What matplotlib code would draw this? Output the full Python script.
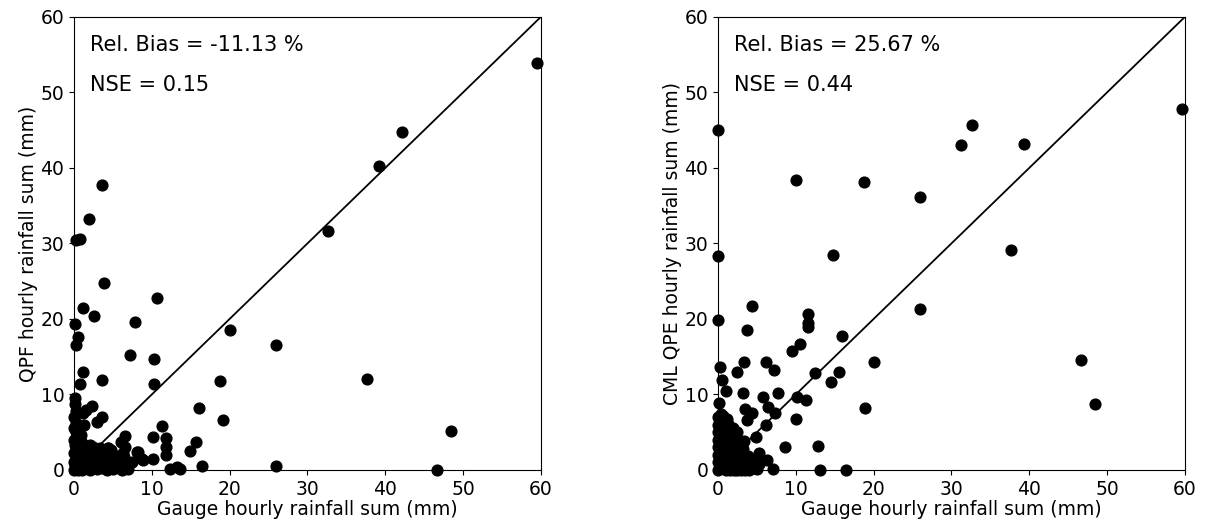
import matplotlib
matplotlib.use('Agg')
import matplotlib.pyplot as plt
import numpy as np

# QPF vs gauge (left panel)
gauge_qpf = [59.5, 42.1, 39.2, 32.6, 3.6, 1.9, 0.3, 0.8, 3.9, 10.6, 1.2, 2.6, 7.8, 0.1,
             0.5, 0.2, 20.1, 26.0, 7.2, 10.3, 1.2, 0.8, 3.6, 10.3, 18.8, 37.7, 0.1, 0.1,
             2.3, 1.6, 1.2, 3.6, 3.0, 16.0, 19.1, 1.3, 0.9, 11.3, 48.4, 6.6, 6.1, 6.6,
             6.3, 10.1, 11.8, 11.8, 11.8, 15.7, 14.9, 8.1, 8.7, 10.1, 7.4, 4.4, 2.1, 2.5,
             26.0, 16.5, 13.2, 12.3, 13.6, 46.6,
             0.0, 0.2, 0.5, 0.8, 1.0, 1.2, 1.5, 1.8, 2.0, 2.3, 2.6, 3.0, 3.2, 3.6, 4.0,
             4.3, 4.7, 5.0, 5.4, 5.8, 6.2, 6.6, 7.0, 0.0, 0.3, 0.0, 0.5, 1.0, 1.3, 0.1,
             0.0, 0.4, 0.0, 0.2, 0.6, 1.6, 2.8, 3.3, 4.4, 5.1, 5.6, 6.0, 0.1, 0.0, 0.3,
             2.0, 3.3, 4.4, 8.2, 8.8,
             0.5, 1.5, 2.5, 3.5, 4.5, 5.5, 6.0, 6.8, 0.8, 1.8, 2.2, 3.8, 4.8, 0.2, 0.9,
             0.2, 1.5, 2.6, 3.0, 0.4, 1.1, 2.0, 2.9, 3.9, 4.9, 5.2, 6.4]
qpf = [53.9, 44.8, 40.2, 31.6, 37.7, 33.2, 30.5, 30.6, 24.8, 22.8, 21.5, 20.4, 19.6, 19.3,
       17.6, 16.6, 18.5, 16.5, 15.2, 14.7, 13.0, 11.4, 11.9, 11.4, 11.8, 12.1, 9.5, 8.8,
       8.5, 7.9, 7.5, 7.0, 6.4, 8.2, 6.6, 5.9, 4.6, 5.8, 5.1, 4.5, 3.7, 3.1,
       2.3, 4.4, 4.2, 3.1, 2.0, 3.7, 2.5, 2.4, 1.4, 1.4, 1.0, 2.9, 3.3, 3.1,
       0.5, 0.5, 0.4, 0.1, 0.1, 0.0,
       0.0, 0.1, 0.0, 0.3, 0.0, 0.6, 0.2, 1.0, 0.0, 0.5, 1.4, 0.1, 0.8, 0.3, 1.2,
       0.0, 0.6, 0.1, 0.9, 0.3, 0.0, 0.5, 0.1, 1.0, 1.6, 2.2, 2.6, 1.9, 2.8, 3.3,
       4.0, 4.8, 5.5, 6.2, 1.2, 1.5, 2.0, 1.6, 2.0, 1.5, 1.8, 1.2, 0.6, 7.0, 7.8,
       3.1, 2.9, 2.9, 2.4, 1.3,
       0.8, 0.9, 0.2, 1.0, 1.3, 0.5, 0.8, 0.9, 1.8, 2.2, 1.2, 2.3, 2.6, 2.9, 3.8,
       5.0, 3.2, 2.6, 1.6, 0.4, 0.2, 0.5, 0.4, 0.5, 0.3, 1.9, 1.7]

# CML QPE vs gauge (right panel)
gauge_cml = [59.6, 0.0, 32.7, 31.2, 39.3, 10.0, 18.8, 26.0, 37.6, 0.0, 14.8, 26.0, 4.4,
             0.0, 11.6, 11.6, 11.6, 3.7, 15.9, 10.5, 9.5, 20.1, 46.7, 3.4, 6.2, 7.2,
             2.5, 0.2, 12.4, 15.6, 14.5, 0.5, 1.0, 3.2, 7.7, 0.1, 5.8, 10.2, 11.3, 6.4,
             3.5, 4.3, 3.7, 7.3, 10.0, 18.9, 48.4, 6.1, 4.9, 8.6, 12.8, 5.3, 6.3, 13.1,
             16.4, 7.0,
             0.0, 0.0, 0.0, 0.0, 0.0, 0.0, 0.0, 0.0, 0.4, 0.5, 0.5, 0.5, 0.6, 0.5, 0.6,
             0.7, 1.0, 1.0, 1.1, 1.0, 1.1, 1.2, 1.3, 1.5, 1.6, 1.6, 1.7, 1.8, 1.9, 2.0,
             2.1, 2.2, 2.3, 2.4, 2.5, 2.6, 2.8, 3.0, 3.0, 3.2, 3.4, 3.5, 3.8, 4.0, 4.1,
             4.5, 4.6, 5.0, 5.2,
             0.3, 0.2, 0.3, 0.2, 0.3, 0.2, 0.3, 0.8, 0.8, 0.9, 0.8, 0.9, 1.0, 1.3, 1.3,
             1.4, 1.4, 1.5, 1.6, 2.0, 2.0, 2.1, 2.2, 2.0, 2.6, 2.7, 3.3, 3.6, 4.2, 2.5,
             3.5, 1.5, 0.2, 1.1, 0.6]
cml = [47.8, 45.0, 45.7, 43.0, 43.2, 38.4, 38.2, 36.2, 29.2, 28.3, 28.5, 21.3, 21.7,
       19.9, 20.7, 19.5, 18.9, 18.5, 17.8, 16.7, 15.8, 14.3, 14.5, 14.3, 14.3, 13.2,
       13.0, 13.7, 12.9, 13.0, 11.6, 11.9, 10.5, 10.2, 10.2, 8.9, 9.6, 9.6, 9.2, 8.4,
       8.1, 7.5, 6.6, 7.5, 6.8, 8.2, 8.8, 6.0, 4.3, 3.1, 3.2, 2.2, 1.3, 0.0,
       0.0, 0.1,
       0.0, 1.0, 2.0, 3.0, 4.0, 5.0, 6.0, 7.0, 7.4, 0.5, 1.5, 2.5, 3.5, 4.5, 5.5,
       6.5, 0.0, 1.0, 2.0, 3.0, 4.0, 5.0, 6.1, 0.5, 1.5, 2.6, 3.5, 4.6, 5.5, 0.0,
       1.0, 2.0, 3.0, 4.0, 5.0, 0.4, 3.5, 0.0, 1.2, 2.8, 3.8, 0.6, 1.8, 0.0, 1.0,
       0.3, 1.5, 0.1, 0.8,
       0.3, 1.3, 2.3, 3.3, 4.3, 5.3, 6.3, 0.8, 1.8, 2.8, 3.8, 4.8, 5.8, 0.3, 1.3,
       2.4, 3.4, 4.3, 5.0, 0.6, 1.6, 2.6, 3.6, 4.4, 1.4, 2.2, 0.4, 1.2, 0.5, 0.0,
       0.0, 0.0, 7.0, 6.8, 7.2]

panels = [
    (gauge_qpf, qpf, 'QPF hourly rainfall sum (mm)', -11.13, 0.15),
    (gauge_cml, cml, 'CML QPE hourly rainfall sum (mm)', 25.67, 0.44),
]

fs = 13.5
fig = plt.figure(figsize=(12.06, 5.31), dpi=100)
lefts = [0.0614, 0.5954]

for left, (gx, py, ylab, bias, nse) in zip(lefts, panels):
    ax = fig.add_axes([left, 0.115, 0.387, 0.853])
    ax.plot([0, 60], [0, 60], color='black', lw=1.3, zorder=1)
    ax.scatter(gx, py, s=60, color='black', zorder=2, clip_on=False)
    ax.set_xlim(0, 60)
    ax.set_ylim(0, 60)
    ax.set_xticks(range(0, 61, 10))
    ax.set_yticks(range(0, 61, 10))
    ax.tick_params(labelsize=fs)
    ax.set_xlabel('Gauge hourly rainfall sum (mm)', fontsize=fs, labelpad=1)
    ax.set_ylabel(ylab, fontsize=fs, labelpad=2)
    ax.text(2, 56.3, 'Rel. Bias = %.2f %%' % bias, fontsize=15, va='center')
    ax.text(2, 51.0, 'NSE = %.2f' % nse, fontsize=15, va='center')

plt.savefig('out.png', dpi=100)
